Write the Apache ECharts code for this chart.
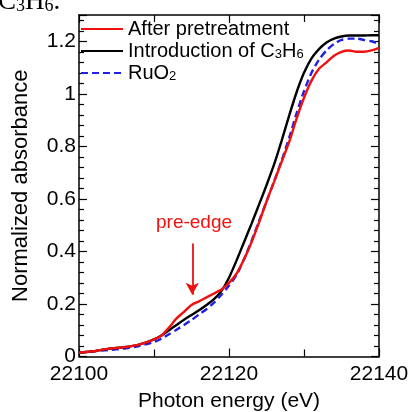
<!DOCTYPE html>
<html>
<head>
<meta charset="utf-8">
<script src="https://cdn.jsdelivr.net/npm/echarts@6/dist/echarts.min.js"></script>
<style>
  html, body { margin: 0; padding: 0; background: #fff; }
  #main { width: 413px; height: 412px; }
</style>
</head>
<body>
<div id="main"></div>
<script>
// photon energy (eV)
var energy = [22100, 22102, 22104, 22106, 22108, 22110, 22111, 22112, 22113, 22114,
  22115, 22116, 22117, 22118, 22119, 22120, 22121, 22122, 22123, 22124,
  22125, 22126, 22127, 22128, 22129, 22130, 22131, 22132, 22133, 22134,
  22135, 22136, 22137, 22138, 22139, 22140];

var afterPretreatment = [0.015, 0.02, 0.03, 0.035, 0.045, 0.065, 0.08, 0.11, 0.145, 0.17,
  0.196, 0.21, 0.225, 0.24, 0.255, 0.28, 0.315, 0.37, 0.435, 0.51,
  0.59, 0.665, 0.74, 0.815, 0.905, 0.985, 1.05, 1.095, 1.12, 1.145,
  1.16, 1.165, 1.16, 1.16, 1.165, 1.175];

var introC3H6 = [0.015, 0.02, 0.03, 0.035, 0.045, 0.065, 0.08, 0.1, 0.12, 0.14,
  0.158, 0.176, 0.196, 0.218, 0.25, 0.3, 0.365, 0.435, 0.505, 0.578,
  0.652, 0.73, 0.82, 0.915, 1.005, 1.08, 1.135, 1.17, 1.195, 1.21,
  1.218, 1.222, 1.222, 1.222, 1.223, 1.223];

var ruO2 = [0.015, 0.02, 0.025, 0.03, 0.04, 0.055, 0.068, 0.085, 0.102, 0.12,
  0.139, 0.16, 0.18, 0.205, 0.235, 0.27, 0.31, 0.37, 0.44, 0.515,
  0.59, 0.665, 0.745, 0.83, 0.925, 1.01, 1.08, 1.13, 1.165, 1.19,
  1.205, 1.21, 1.21, 1.205, 1.2, 1.19];

var xTicks = [22100, 22120, 22140];
var yTicks = [0, 0.2, 0.4, 0.6, 0.8, 1, 1.2];

function pairs(ys) {
  return energy.map(function (x, i) { return [x, ys[i]]; });
}

var font = 'Liberation Sans, Arial, Helvetica, sans-serif';

var chart = echarts.init(document.getElementById('main'));

var xBase = {
  type: 'value', min: 22100, max: 22140, interval: 20,
  axisLine: { onZero: false, lineStyle: { color: '#000', width: 1.5 } },
  axisTick: { inside: true, length: 8, lineStyle: { color: '#000', width: 1.2 } },
  minorTick: { show: true, splitNumber: 2, length: 7, lineStyle: { color: '#000', width: 1.2 } },
  splitLine: { show: false }
};
var yBase = {
  type: 'value', min: 0, max: 1.3, interval: 0.2,
  axisLine: { onZero: false, lineStyle: { color: '#000', width: 1.5 } },
  axisTick: { inside: true, length: 8, lineStyle: { color: '#000', width: 1.2 } },
  minorTick: { show: true, splitNumber: 5, length: 5, lineStyle: { color: '#000', width: 1.2 } },
  splitLine: { show: false }
};

var option = {
  backgroundColor: '#fff',
  animation: false,
  grid: { left: 79, right: 34, top: 15, bottom: 55.5, outerBoundsMode: 'none', containLabel: false },
  legend: {
    data: ['After pretreatment', 'Introduction of C3H6', 'RuO2'],
    orient: 'vertical',
    left: 80, top: 19, padding: 0,
    itemWidth: 42, itemHeight: 12, itemGap: 0,
    itemStyle: { opacity: 0 },
    textStyle: {
      fontFamily: font, fontSize: 20, color: '#000', padding: [0, 0, 0, 0],
      rich: {
        a: { fontFamily: font, fontSize: 20, color: '#000', lineHeight: 20 },
        s: { fontFamily: font, fontSize: 13, color: '#000', verticalAlign: 'bottom', lineHeight: 20, padding: [9, 0, 0, 0] }
      }
    },
    formatter: function (name) {
      if (name === 'Introduction of C3H6') return '{a|Introduction of C}{s|3}{a|H}{s|6}';
      if (name === 'RuO2') return '{a|RuO}{s|2}';
      return '{a|' + name + '}';
    }
  },
  xAxis: [
    Object.assign({}, xBase, {
      position: 'bottom',
      name: 'Photon energy (eV)', nameLocation: 'middle', nameGap: 34,
      nameTextStyle: { fontFamily: font, fontSize: 21, color: '#000' },
      axisLabel: { fontFamily: font, fontSize: 21, color: '#000', margin: 7,
        formatter: function (v) { return xTicks.indexOf(v) >= 0 ? String(v) : ''; } }
    }),
    Object.assign({}, xBase, { position: 'top', axisLabel: { show: false } })
  ],
  yAxis: [
    Object.assign({}, yBase, {
      position: 'left',
      name: 'Normalized absorbance', nameLocation: 'middle', nameGap: 47,
      nameTextStyle: { fontFamily: font, fontSize: 22, color: '#000' },
      axisLabel: { fontFamily: font, fontSize: 21, color: '#000', margin: 3,
        formatter: function (v) { var r = Math.round(v * 10) / 10; return yTicks.indexOf(r) >= 0 ? String(r) : ''; } }
    }),
    Object.assign({}, yBase, { position: 'right', axisLabel: { show: false } })
  ],
  series: [
    {
      name: 'RuO2', type: 'line', data: pairs(ruO2), symbol: 'none', smooth: 0.25,
      lineStyle: { color: '#1f1fe6', width: 2.4, type: [7, 4] }, itemStyle: { color: '#1f1fe6' }
    },
    {
      name: 'Introduction of C3H6', type: 'line', data: pairs(introC3H6), symbol: 'none', smooth: 0.25,
      lineStyle: { color: '#000', width: 2.4 }, itemStyle: { color: '#000' }
    },
    {
      name: 'After pretreatment', type: 'line', data: pairs(afterPretreatment), symbol: 'none', smooth: 0.25,
      lineStyle: { color: '#f01010', width: 2.4 }, itemStyle: { color: '#f01010' },
      markLine: {
        silent: true, symbol: ['none', 'arrow'], symbolSize: [10, 12],
        lineStyle: { color: '#f01010', width: 1.8, type: 'solid' },
        label: { show: false },
        data: [[{ coord: [22115.1, 0.43] }, { coord: [22115.1, 0.235] }]]
      }
    }
  ],
  graphic: [
    { type: 'text', left: 156, top: 213,
      style: { text: 'pre-edge', fill: '#f01010', font: '19px ' + font } },
    { type: 'text', left: -2, top: -12,
      style: { rich: {
        a: { font: '27px Liberation Serif, Times New Roman, serif', fill: '#000' },
        s: { font: '18px Liberation Serif, Times New Roman, serif', fill: '#000', padding: [10, 0, 0, 0] }
      }, text: '{a|C}{s|3}{a|H}{s|6}{a|.}' } }
  ]
};

chart.setOption(option);
</script>
</body>
</html>
